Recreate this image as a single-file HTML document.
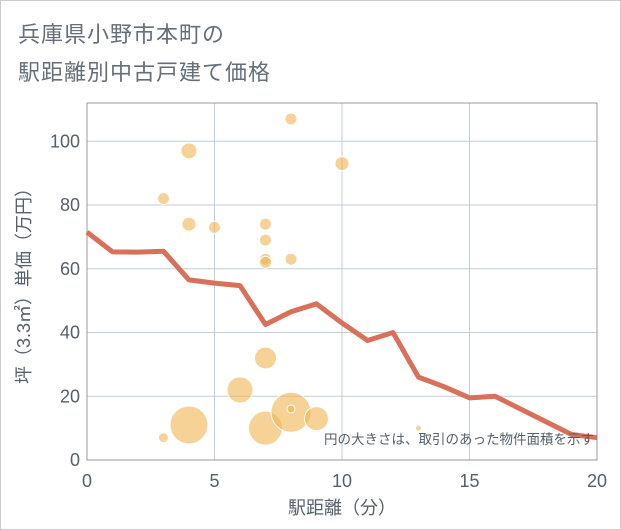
<!DOCTYPE html>
<html><head><meta charset="utf-8"><style>
body{margin:0;background:#fff;}
#wrap{position:relative;width:619px;height:528px;border:1px solid #ccc;background:#fff;font-family:"Liberation Sans","Noto Sans CJK JP",sans-serif;}
.title{position:absolute;left:17px;font-size:22px;color:#666e78;letter-spacing:1px;}
</style></head><body>
<div id="wrap">
<div class="title" style="top:16px">兵庫県小野市本町の</div>
<div class="title" style="top:54px">駅距離別中古戸建て価格</div>
<svg id="chart" width="621" height="530" style="position:absolute;left:-1px;top:-1px"></svg>
</div>
<script>
const bubbleX=[3,3,4,4,4,5,6,7,7,7,7,7,7,8,8,8,8,9,10,13];
const bubbleY=[82,7,97,74,11,73,22,74,69,63,62,32,10,107,63,15,16,13,93,10];
const bubbleR=[6,5,8,7,19,6,13,6,6,6,6,11,17,6,6,20,4,12,7,3];
const lineX=[0,1,2,3,4,5,6,7,8,9,10,11,12,13,14,15,16,17,18,19,20];
const lineY=[71.5,65.3,65.2,65.5,56.5,55.5,54.7,42.5,46.5,49,43,37.5,40,26,23,19.5,20,16,12,8,7];
const xTicks=[0,5,10,15,20];
const yTicks=[0,20,40,60,80,100];
const L=87,R=597,T=103,B=460,YMAX=112;
const sx=v=>L+(R-L)*v/20, sy=v=>B-(B-T)*v/YMAX;
const NS="http://www.w3.org/2000/svg";
const svg=document.getElementById('chart');
function mk(t,a){const e=document.createElementNS(NS,t);for(const k in a)e.setAttribute(k,a[k]);svg.appendChild(e);return e;}
for(const v of xTicks){const g=mk('line',{x1:sx(v),x2:sx(v),y1:T,y2:B,stroke:'#c0ced9','stroke-width':1});


const t=mk('text',{x:sx(v),y:B+27,'text-anchor':'middle','font-size':18,fill:'#555f6a'});t.textContent=v;

}
for(const v of yTicks){const g=mk('line',{x1:L,x2:R,y1:sy(v),y2:sy(v),stroke:'#c0ced9','stroke-width':1});


const t=mk('text',{x:L-7,y:sy(v)+6,'text-anchor':'end','font-size':18,fill:'#555f6a'});t.textContent=v;

}
const fr=mk('rect',{x:L,y:T,width:R-L,height:B-T,fill:'none',stroke:'#999','stroke-width':1});


bubbleX.forEach((x,i)=>{const c=mk('circle',{cx:sx(x),cy:sy(bubbleY[i]),r:bubbleR[i],fill:'rgba(240,180,80,0.6)',stroke:'#fff','stroke-width':1});

});
const p=mk('polyline',{points:lineX.map((x,i)=>sx(x)+','+sy(lineY[i])).join(' '),fill:'none',stroke:'#d9705a','stroke-width':5,'stroke-linejoin':'round'});


const n=mk('text',{x:594,y:444,'text-anchor':'end','font-size':13.5,fill:'#555f6a'});n.textContent='円の大きさは、取引のあった物件面積を示す';


const xt=mk('text',{x:(L+R)/2,y:514,'text-anchor':'middle','font-size':18,fill:'#555f6a'});xt.textContent='駅距離（分）';


const yt=mk('text',{x:0,y:0,'text-anchor':'middle','font-size':18,fill:'#555f6a',transform:'translate(30,'+((T+B)/2)+') rotate(-90)'});yt.textContent='坪（3.3㎡）単価（万円）';


</script>
</body></html>
